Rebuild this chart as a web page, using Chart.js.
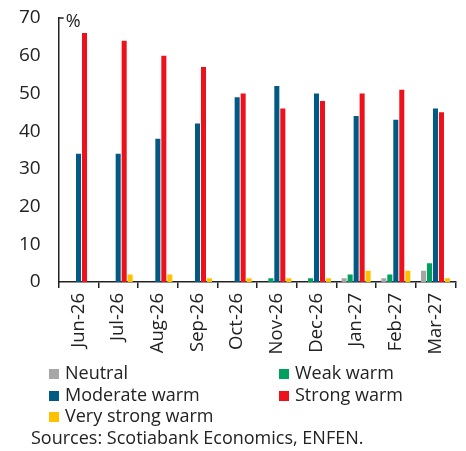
<!DOCTYPE html>
<html>
<head>
<meta charset="utf-8">
<script src="https://cdn.jsdelivr.net/npm/chart.js@4"></script>
<style>
  html, body { margin: 0; padding: 0; background: #fff; }
  body { width: 466px; height: 451px; overflow: hidden; position: relative;
         font-family: "Open Sans", sans-serif; color: #222; }
  #wrap { position: absolute; left: 0; top: 0; width: 466px; height: 451px; }
  .leg { position: absolute; font-size: 18px; line-height: 20px; white-space: nowrap; }
  .leg i { display: inline-block; width: 10px; height: 10px; margin-right: 6px; vertical-align: 0px; }
  #src { position: absolute; left: 31px; top: 426px; font-size: 18px; line-height: 22px; white-space: nowrap; }
</style>
</head>
<body>
<div id="wrap"><canvas id="c" width="466" height="451"></canvas></div>
<div id="legend"></div>
<div id="src">Sources: Scotiabank Economics, ENFEN.</div>
<script>
// Months of the outlook
const months = ["Jun-26","Jul-26","Aug-26","Sep-26","Oct-26","Nov-26","Dec-26","Jan-27","Feb-27","Mar-27"];

// Probability (%) of each coastal El Niño magnitude
const neutral      = [0, 0, 0, 0, 0, 0, 0, 1, 1, 3];
const weakWarm     = [0, 0, 0, 0, 0, 1, 1, 2, 2, 5];
const moderateWarm = [34, 34, 38, 42, 49, 52, 50, 44, 43, 46];
const strongWarm   = [66, 64, 60, 57, 50, 46, 48, 50, 51, 45];
const veryStrong   = [0, 2, 2, 1, 1, 1, 1, 3, 3, 1];

const seriesNames  = ["Neutral", "Weak warm", "Moderate warm", "Strong warm", "Very strong warm"];
const seriesColors = ["#a6a6a6", "#00a060", "#005a84", "#ec111a", "#ffc000"];
const seriesValues = [neutral, weakWarm, moderateWarm, strongWarm, veryStrong];

const yTicks = [0, 10, 20, 30, 40, 50, 60, 70];

// small inward tick at the top of the value axis, with the unit label
const unitMark = {
  id: 'unitMark',
  afterDraw(chart) {
    const { ctx, chartArea, scales } = chart;
    const y = scales.y.getPixelForValue(70);
    ctx.save();
    ctx.strokeStyle = '#222';
    ctx.lineWidth = 1.5;
    ctx.beginPath();
    ctx.moveTo(chartArea.left, y);
    ctx.lineTo(chartArea.left + 5, y);
    ctx.stroke();
    ctx.fillStyle = '#222';
    ctx.font = '18px "Open Sans"';
    ctx.textBaseline = 'middle';
    ctx.fillText('%', chartArea.left + 7, y + 4);
    ctx.restore();
  }
};

new Chart(document.getElementById('c'), {
  type: 'bar',
  data: {
    labels: months,
    datasets: seriesNames.map((name, i) => ({
      label: name,
      data: seriesValues[i],
      backgroundColor: seriesColors[i],
      borderWidth: 0,
      categoryPercentage: 0.755,
      barPercentage: 0.84
    }))
  },
  options: {
    responsive: false,
    animation: false,
    layout: { padding: { top: 18, right: 10.7, left: 0, bottom: 79 } },
    plugins: { legend: { display: false }, tooltip: { enabled: false } },
    scales: {
      x: {
        offset: true,
        afterFit(s) { s.height = 90; },
        grid: { display: true, drawOnChartArea: false, drawTicks: true, tickLength: 6, color: '#222', lineWidth: 1.5, offset: true },
        border: { display: true, color: '#222', width: 1.5 },
        ticks: { color: '#222', font: { family: 'Open Sans', size: 18.5 }, minRotation: 90, maxRotation: 90, padding: 5, autoSkip: false }
      },
      y: {
        min: 0, max: 70,
        afterFit(s) { s.width = 58.7; s.paddingTop = 0; s.paddingBottom = 0; },
        afterBuildTicks(s) { s.ticks = yTicks.map(v => ({ value: v })); },
        grid: { display: false, drawTicks: false },
        border: { display: true, color: '#222', width: 1.5 },
        ticks: { color: '#222', font: { family: 'Open Sans', size: 19 }, padding: 18 }
      }
    }
  },
  plugins: [unitMark]
});

// legend in two columns
const legendPos = [[49, 362], [279, 362], [49, 383.5], [279, 383.5], [49, 405]];
const legend = document.getElementById('legend');
seriesNames.forEach((name, i) => {
  const d = document.createElement('div');
  d.className = 'leg';
  d.style.left = legendPos[i][0] + 'px';
  d.style.top = legendPos[i][1] + 'px';
  d.innerHTML = '<i style="background:' + seriesColors[i] + '"></i>' + name;
  legend.appendChild(d);
});
</script>
</body>
</html>
